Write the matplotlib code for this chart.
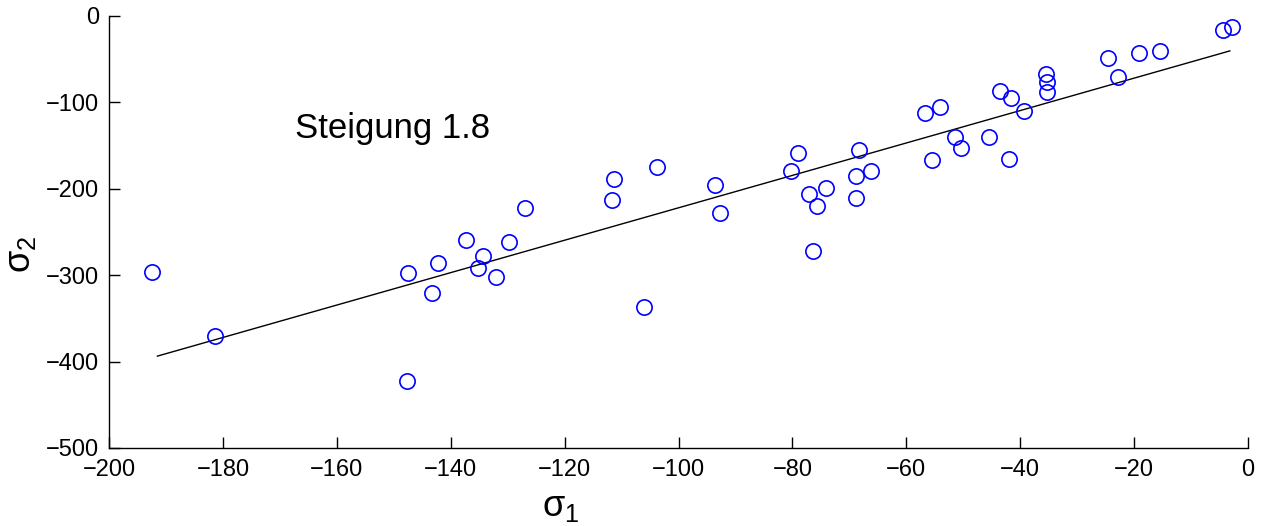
import numpy as np
import matplotlib
matplotlib.use("Agg")
import matplotlib.pyplot as plt

plt.rcParams['font.family'] = ['Liberation Sans', 'DejaVu Sans']
plt.rcParams['mathtext.fontset'] = 'custom'
plt.rcParams['mathtext.rm'] = 'Liberation Sans'
plt.rcParams['mathtext.it'] = 'Liberation Sans'
plt.rcParams['mathtext.sf'] = 'Liberation Sans'

# measured points (sigma_1, sigma_2)
sigma1 = [-192.4, -181.4, -147.7, -147.5, -143.3, -142.2, -137.3, -135.2, -134.3,
          -132.0, -129.8, -127.0, -111.7, -111.3, -106.1, -103.8, -93.6, -92.7,
          -80.2, -79.0, -77.1, -76.4, -75.7, -74.1, -68.8, -68.8, -68.3, -66.2,
          -56.7, -55.5, -54.1, -51.4, -50.4, -45.5, -43.5, -42.0, -41.6, -39.3,
          -35.5, -35.3, -35.3, -24.6, -22.8, -19.1, -15.5, -4.4, -2.8]
sigma2 = [-296.3, -370.4, -422.5, -297.5, -320.6, -285.9, -259.3, -291.7, -277.8,
          -302.1, -261.6, -222.2, -213.0, -188.7, -336.8, -174.8, -195.6, -228.0,
          -179.4, -158.6, -206.0, -272.0, -219.9, -199.1, -210.6, -185.2, -155.1,
          -179.4, -112.3, -166.7, -105.3, -140.0, -152.8, -140.0, -86.8, -165.5,
          -94.9, -110.0, -67.1, -76.4, -88.0, -48.6, -70.6, -42.8, -40.5, -16.2,
          -12.7]

# fitted line
fit_x = [-191.5, -3.2]
slope = 1.876
intercept = -34.4

xticks = list(range(-200, 1, 20))
yticks = list(range(-500, 1, 100))

fig = plt.figure(figsize=(12.69, 5.26), dpi=100)
ax = fig.add_axes([0.0859, 0.1483, 0.8976, 0.8213])

ax.plot(sigma1, sigma2, 'o', mfc='none', mec='blue', ms=11, mew=1.2, zorder=3)
fx = np.array(fit_x)
ax.plot(fx, slope * fx + intercept, color='black', lw=1.0)

ax.text(-167.3, -130, 'Steigung 1.8', fontsize=25, va='center', ha='left')

ax.set_xlim(-200, 0)
ax.set_ylim(-500, 0)
ax.set_xticks(xticks)
ax.set_yticks(yticks)
ax.set_xticklabels(['\u2212%d' % -v if v < 0 else '0' for v in xticks])
ax.set_yticklabels(['\u2212%d' % -v if v < 0 else '0' for v in yticks])

for s in ['top', 'right']:
    ax.spines[s].set_visible(False)
for s in ['left', 'bottom']:
    ax.spines[s].set_linewidth(1.0)
ax.tick_params(direction='in', length=8, width=1.0, labelsize=17)
ax.tick_params(axis='x', pad=8)
ax.tick_params(axis='y', pad=7)

ax.set_xlabel(r'$\sigma_1$', fontsize=26)
ax.set_ylabel(r'$\sigma_2$', fontsize=26)
ax.xaxis.set_label_coords(0.396, -0.095)
ax.yaxis.set_label_coords(-0.062, 0.447)

fig.savefig('out.png', dpi=100)
